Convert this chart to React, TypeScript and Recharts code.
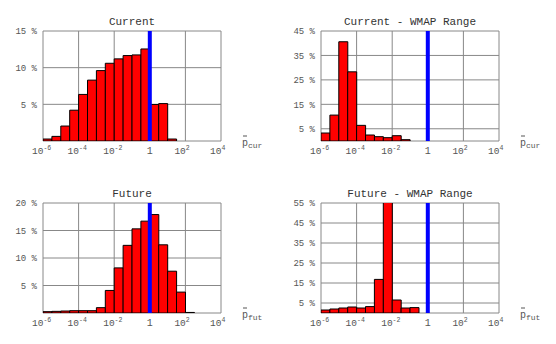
import { BarChart, Bar, XAxis, YAxis, CartesianGrid, ReferenceLine } from 'recharts';

// half-decade bins over log10(p) from -6 to 4
const binCenters = [
  -5.75, -5.25, -4.75, -4.25, -3.75, -3.25, -2.75, -2.25, -1.75, -1.25,
  -0.75, -0.25, 0.25, 0.75, 1.25, 1.75, 2.25, 2.75, 3.25, 3.75,
];

const xTicks = [-6, -4, -2, 0, 2, 4];

// percentage of samples in each bin
const currentAll = [0.27, 0.63, 2.04, 4.2, 6.35, 8.3, 9.6, 10.6, 11.2, 11.65, 11.74, 12.55, 4.98, 5.1, 0.27, 0, 0, 0, 0, 0];
const currentWmap = [3.26, 10.6, 40.6, 28.3, 6.4, 2.45, 1.77, 1.36, 2.17, 0.54, 0, 0, 0, 0, 0, 0, 0, 0, 0, 0];
const futureAll = [0.24, 0.3, 0.36, 0.42, 0.42, 0.42, 0.97, 4.1, 8.2, 12.3, 15.3, 16.7, 17.9, 12.4, 7.6, 3.8, 0.1, 0, 0, 0];
const futureWmap = [1.5, 2.0, 2.5, 3.0, 2.5, 3.2, 16.8, 58, 6.5, 2.5, 2.7, 0, 0, 0, 0, 0, 0, 0, 0, 0];

const yTicksCurrent = [0, 5, 10, 15];
const yTicksCurrentWmap = [0, 5, 15, 25, 35, 45];
const yTicksFuture = [0, 5, 10, 15, 20];
const yTicksFutureWmap = [0, 5, 15, 25, 35, 45, 55];

const FONT = '"Liberation Mono", "Courier New", monospace';

const PowerTick = ({ x, y, payload }: any) => {
  const v = payload.value;
  if (v === 0) {
    return (
      <text x={x} y={y + 13} textAnchor="middle" fontFamily={FONT} fontSize={10} fill="#555">1</text>
    );
  }
  return (
    <text x={x - 11} y={y + 13} textAnchor="start" fontFamily={FONT} fontSize={9.5} fill="#555">
      <tspan>10</tspan>
      <tspan dy={-4} fontSize={6.5}>{v}</tspan>
    </text>
  );
};

const makeAxisLabel = (sub: string) => (props: any) => {
  const vb = props.viewBox || {};
  const x0 = vb.x + vb.width + 21;
  const y0 = vb.y + 5;
  return (
    <g>
      <line x1={x0 + 1} x2={x0 + 5} y1={y0 - 10} y2={y0 - 10} stroke="#555" strokeWidth={1} />
      <text x={x0} y={y0} fontFamily={FONT} fontSize={10} fill="#555">
        p
        <tspan dy={2} fontSize={8}>{sub}</tspan>
      </text>
    </g>
  );
};

interface PanelProps {
  title: string;
  values: number[];
  yMax: number;
  yTicks: number[];
  sub: string;
}

function Panel({ title, values, yMax, yTicks, sub }: PanelProps) {
  const data = binCenters.map((x, i) => ({ x, pct: values[i] }));
  return (
    <div style={{ position: 'relative', width: 278, height: 172 }}>
      <div
        style={{
          position: 'absolute',
          left: 43,
          width: 178,
          top: 17,
          textAlign: 'center',
          fontFamily: FONT,
          fontSize: 11,
          lineHeight: '11px',
          color: '#333',
        }}
      >
        {title}
      </div>
      <BarChart
        width={278}
        height={172}
        data={data}
        margin={{ top: 31, right: 57, left: 0, bottom: 0 }}
        barCategoryGap={0}
        barGap={0}
      >
        <CartesianGrid stroke="#888" strokeWidth={1} />
        <XAxis
          dataKey="x"
          type="number"
          domain={[-6, 4]}
          ticks={xTicks}
          allowDataOverflow
          height={31}
          axisLine={false}
          tickLine={false}
          tickSize={0}
          tickMargin={0}
          tick={<PowerTick />}
          interval={0}
          label={{ content: makeAxisLabel(sub) }}
        />
        <YAxis
          type="number"
          domain={[0, yMax]}
          ticks={yTicks}
          allowDataOverflow
          width={43}
          axisLine={false}
          tickLine={false}
          tickSize={0}
          tickMargin={6}
          interval={0}
          tick={{ fontFamily: FONT, fontSize: 9, fill: '#555' }}
          tickFormatter={(v: number) => (v === 0 ? '' : `${v} %`)}
        />
        <Bar dataKey="pct" fill="#ff0000" stroke="#000" strokeWidth={1} isAnimationActive={false} />
        <ReferenceLine x={0} stroke="#0000ff" strokeWidth={4} />
      </BarChart>
    </div>
  );
}

export default function App() {
  return (
    <div
      style={{
        position: 'absolute',
        left: 0,
        top: 0,
        width: 556,
        height: 344,
        background: '#fff',
        display: 'grid',
        gridTemplateColumns: '278px 278px',
        gridTemplateRows: '172px 172px',
      }}
    >
      <Panel title="Current" values={currentAll} yMax={15} yTicks={yTicksCurrent} sub="cur" />
      <Panel title="Current - WMAP Range" values={currentWmap} yMax={45} yTicks={yTicksCurrentWmap} sub="cur" />
      <Panel title="Future" values={futureAll} yMax={20} yTicks={yTicksFuture} sub="fut" />
      <Panel title="Future - WMAP Range" values={futureWmap} yMax={55} yTicks={yTicksFutureWmap} sub="fut" />
    </div>
  );
}
